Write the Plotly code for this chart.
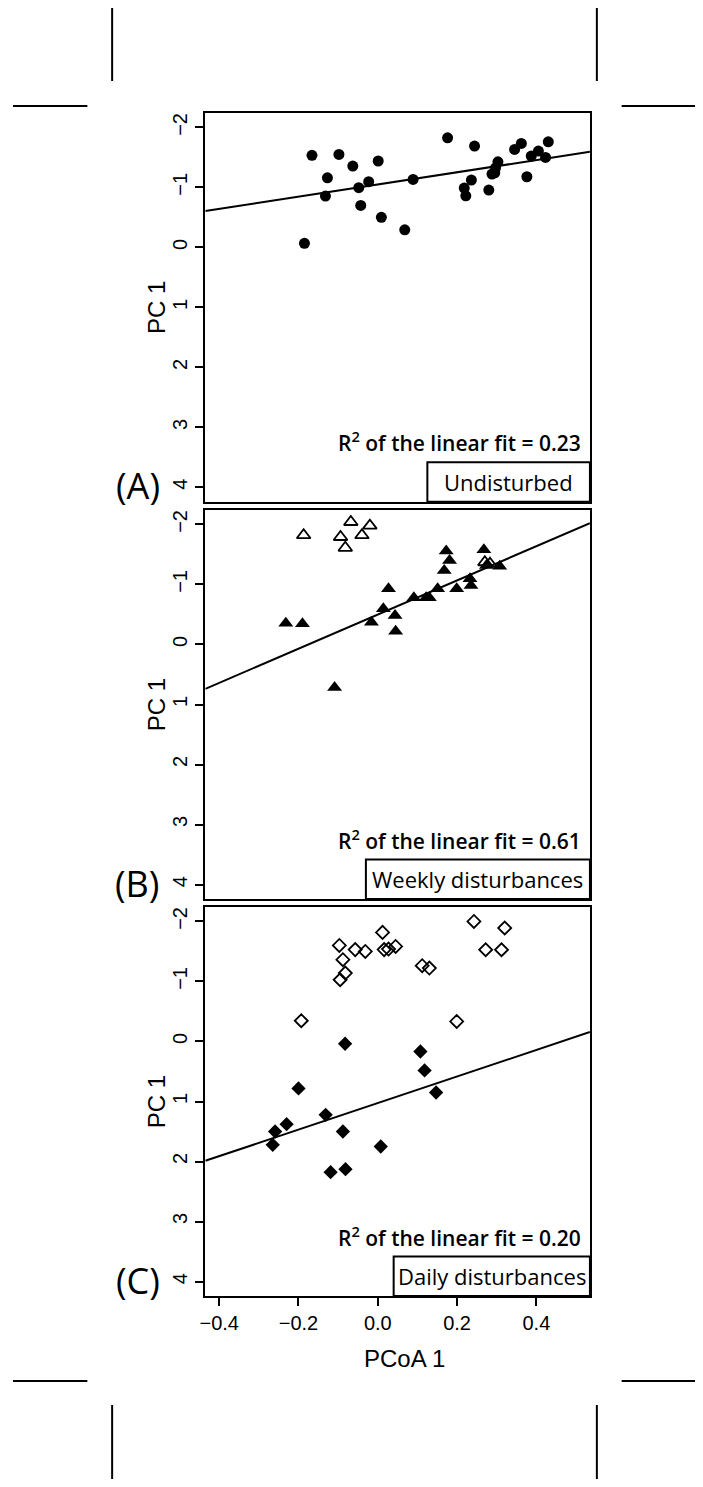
import plotly.graph_objects as go

# page has an 8px body margin, so the figure is a bit smaller than the window
OFF = 8
FW, FH = 687, 1471

# (A) undisturbed
a_x = [-0.166, -0.098, -0.127, -0.132, -0.185, -0.063, 0.001, -0.048, -0.023, -0.043,
       0.009, 0.068, 0.089, 0.176, 0.244, 0.236, 0.218, 0.222, 0.280, 0.303,
       0.297, 0.288, 0.295, 0.345, 0.362, 0.376, 0.387, 0.405, 0.423, 0.430]
a_y = [-1.535, -1.55, -1.16, -0.855, -0.067, -1.355, -1.44, -0.995, -1.095, -0.70,
       -0.50, -0.293, -1.133, -1.827, -1.688, -1.122, -0.988, -0.86, -0.955, -1.427,
       -1.327, -1.222, -1.243, -1.633, -1.733, -1.177, -1.522, -1.605, -1.50, -1.76]

# (B) weekly disturbances
b_x = [-0.232, -0.190, -0.109, 0.1725, 0.181, 0.1675, 0.2675, 0.274, 0.3075, 0.2325,
       0.235, 0.199, 0.151, 0.122, 0.130, 0.091, 0.027, 0.014, 0.0435, -0.016, 0.045]
b_y = [-0.355, -0.345, 0.717, -1.555, -1.40, -1.233, -1.578, -1.317, -1.305, -1.095,
       -0.983, -0.928, -0.928, -0.778, -0.778, -0.778, -0.928, -0.595, -0.483, -0.372, -0.222]
b_open_x = [-0.187, -0.094, -0.082, -0.068, -0.020, -0.040, 0.270, 0.283]
b_open_y = [-1.82, -1.79, -1.61, -2.04, -1.98, -1.82, -1.37, -1.345]

# (C) daily disturbances
c_x = [-0.0825, -0.200, 0.1075, 0.118, 0.147, -0.1315, -0.088, -0.230, -0.259, -0.265,
       0.0075, -0.119, -0.0815]
c_y = [0.038, 0.783, 0.167, 0.483, 0.85, 1.222, 1.5, 1.377, 1.5, 1.722,
       1.75, 2.177, 2.127]
c_open_x = [-0.097, -0.088, -0.082, -0.095, -0.193, -0.057, -0.0315, 0.012, 0.016, 0.027,
            0.045, 0.112, 0.130, 0.2425, 0.320, 0.272, 0.312, 0.199]
c_open_y = [-1.60, -1.362, -1.14, -1.028, -0.345, -1.53, -1.50, -1.817, -1.53, -1.54,
            -1.583, -1.262, -1.223, -2.0, -1.89, -1.528, -1.528, -0.333]

# linear fits (slope, intercept) and R2
fit_slope = [-1.019, -2.846, -2.211]
fit_icpt = [-1.048, -0.499, 1.026]
r2_text = ["0.23", "0.61", "0.20"]
panel_names = ["Undisturbed", "Weekly disturbances", "Daily disturbances"]
panel_tags = ["(A)", "(B)", "(C)"]

x_ticks = [-0.4, -0.2, 0.0, 0.2, 0.4]
x_tick_text = ["\u22120.4", "\u22120.2", "0.0", "0.2", "0.4"]
y_ticks = [-2, -1, 0, 1, 2, 3, 4]
X_RANGE = [-0.435, 0.535]
Y_RANGE = [4.24, -2.24]

def px(x):
    return (x - OFF) / FW

def py(y):
    return 1 - (y - OFF) / FH

# panel boxes in window pixels: top, bottom
panel_px = [(113, 501.7), (510, 899), (907, 1296)]
label_box_left = [425, 363, 391]
LEFT, RIGHT = 201, 589

fig = go.Figure()

filled = [(a_x, a_y, "circle", 11), (b_x, b_y, "triangle-up", 13), (c_x, c_y, "diamond", 11)]
opened = [None, (b_open_x, b_open_y, "triangle-up-open", 12), (c_open_x, c_open_y, "diamond-open", 10)]

for i in range(3):
    sfx = "" if i == 0 else str(i + 1)
    xa, ya = "x" + sfx, "y" + sfx
    fx, fy, sym, sz = filled[i]
    fig.add_trace(go.Scatter(x=fx, y=fy, mode="markers", xaxis=xa, yaxis=ya,
                             marker=dict(symbol=sym, size=sz, color="black",
                                         line=dict(width=0)),
                             showlegend=False))
    if opened[i]:
        ox, oy, osym, osz = opened[i]
        fig.add_trace(go.Scatter(x=ox, y=oy, mode="markers", xaxis=xa, yaxis=ya,
                                 marker=dict(symbol=osym, size=osz, color="black",
                                             line=dict(width=1.8, color="black")),
                                 showlegend=False))
    lx = X_RANGE
    ly = [fit_icpt[i] + fit_slope[i] * v for v in lx]
    fig.add_trace(go.Scatter(x=lx, y=ly, mode="lines", xaxis=xa, yaxis=ya,
                             line=dict(color="black", width=2), showlegend=False))

    top, bot = panel_px[i]
    fig.update_layout(**{
        "xaxis" + sfx: dict(domain=[px(LEFT), px(RIGHT)], range=X_RANGE,
                            anchor=ya, showgrid=False, zeroline=False,
                            showline=True, mirror=True, linecolor="black", linewidth=2,
                            ticks="outside" if i == 2 else "", ticklen=8, tickwidth=2,
                            tickcolor="black", tickvals=x_ticks, ticktext=x_tick_text,
                            showticklabels=(i == 2), ticklabelstandoff=0,
                            tickfont=dict(family="Liberation Sans, Arial", size=20, color="black")),
        "yaxis" + sfx: dict(domain=[py(bot), py(top)], range=Y_RANGE,
                            anchor=xa, showgrid=False, zeroline=False,
                            showline=True, mirror=True, linecolor="black", linewidth=2,
                            ticks="outside", ticklen=8, tickwidth=2, tickcolor="black",
                            tickvals=y_ticks, tickangle=-90, ticklabelstandoff=0,
                            tickfont=dict(family="Liberation Sans, Arial", size=20, color="black")),
    })

    # label box in the lower right corner
    box_top = bot - 39.5
    fig.add_shape(type="rect", xref="paper", yref="paper",
                  x0=px(label_box_left[i]), x1=px(RIGHT), y0=py(bot), y1=py(box_top),
                  line=dict(color="black", width=2), fillcolor="white")
    fig.add_annotation(x=px((label_box_left[i] + RIGHT) / 2), y=py((box_top + bot) / 2),
                       xref="paper", yref="paper", text=panel_names[i], showarrow=False,
                       xanchor="center", yanchor="middle",
                       font=dict(family="Open Sans", size=22, color="black"))
    fig.add_annotation(x=px(582), y=py(box_top - 20.5), xref="paper", yref="paper",
                       text="R<sup>2</sup> of the linear fit = " + r2_text[i],
                       showarrow=False, xanchor="right", yanchor="middle",
                       font=dict(family="Open Sans", size=21, color="black", weight=600))
    fig.add_annotation(x=px(133), y=py(bot - 16), xref="paper", yref="paper",
                       text=panel_tags[i], showarrow=False, xanchor="center", yanchor="middle",
                       font=dict(family="Open Sans", size=36, color="black"))
    fig.add_annotation(x=px(152), y=py((top + bot) / 2), xref="paper", yref="paper",
                       text="PC 1", textangle=-90, showarrow=False,
                       xanchor="center", yanchor="middle",
                       font=dict(family="Liberation Sans, Arial", size=24, color="black"))

fig.add_annotation(x=px(402), y=py(1358), xref="paper", yref="paper", text="PCoA 1",
                   showarrow=False, xanchor="center", yanchor="middle",
                   font=dict(family="Liberation Sans, Arial", size=24, color="black"))

# crop marks
marks = [(107, 7, 107, 81), (596, 7, 596, 81), (7, 106, 82, 106), (621, 106, 696, 106),
         (7, 1381, 82, 1381), (621, 1381, 696, 1381), (107, 1405, 107, 1479), (596, 1405, 596, 1479)]
for x0, y0, x1, y1 in marks:
    fig.add_shape(type="line", xref="paper", yref="paper",
                  x0=px(x0), y0=py(y0), x1=px(x1), y1=py(y1),
                  line=dict(color="black", width=2))

fig.update_layout(width=FW, height=FH, margin=dict(l=0, r=0, t=0, b=0),
                  plot_bgcolor="white", paper_bgcolor="white")

fig.write_html("out.html")
